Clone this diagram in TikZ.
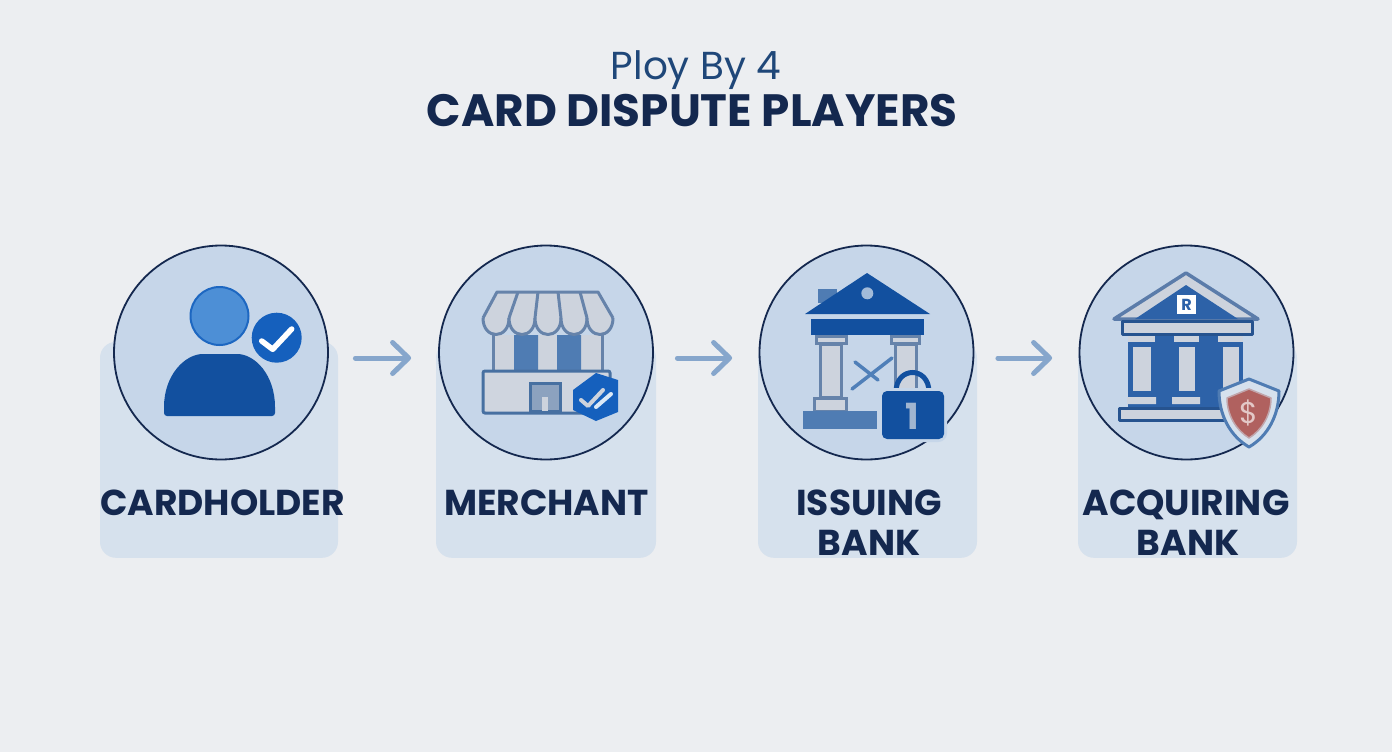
\documentclass[tikz,border=0pt]{standalone}
\usepackage{fontspec}
\setmainfont{Poppins}
\usetikzlibrary{arrows.meta}
\definecolor{pagebg}{HTML}{ECEEF1}
\definecolor{cardbg}{HTML}{D6E1ED}
\definecolor{discbg}{HTML}{C6D6E9}
\definecolor{ink}{HTML}{14284F}
\definecolor{inkb}{HTML}{1F4779}
\definecolor{navy}{HTML}{12509F}
\definecolor{royal}{HTML}{1560BD}
\definecolor{sky}{HTML}{4D8FD6}
\definecolor{steel}{HTML}{4F7CB3}
\definecolor{slate}{HTML}{6683AA}
\definecolor{stone}{HTML}{CDD3DD}
\definecolor{bankblue}{HTML}{2D62A8}
\definecolor{flowc}{HTML}{86A6CC}
\definecolor{brick}{HTML}{B0615F}
\begin{document}
\begin{tikzpicture}
    [
        x=1pt, y=-1pt,
        card/.style={rectangle, fill=cardbg, rounded corners=16pt, minimum height=216pt, anchor=south},
        disc/.style={circle, draw=ink, fill=discbg, line width=1.8pt, minimum size=214pt, inner sep=0pt},
        flow/.style={draw=flowc, line width=5pt, line cap=round, -{Straight Barb[round, length=16pt, width=31pt]}},
        player/.style={text=ink, font=\fontsize{36}{36}\selectfont\bfseries, anchor=base, inner sep=0pt},
        awning/.style={draw=slate, fill=stone, line width=3pt, line join=round},
        pillar/.style={draw=slate, fill=stone, line width=3pt},
        bankpart/.style={draw=bankblue!85!black, fill=stone, line width=3pt, line join=round},
    ]
    \useasboundingbox (0,0) rectangle (1392,752);
    \fill [pagebg] (0,0) rectangle (1392,752);
    \node (title1) at (696,79) [anchor=base, inner sep=0pt, text=inkb, font=\fontsize{39}{39}\selectfont] {Ploy By 4};
    \node (title2) at (692,126) [anchor=base, inner sep=0pt, text=ink, font=\fontsize{45.3}{45.3}\selectfont\bfseries] {CARD DISPUTE PLAYERS};

    \node (card1) at (219,558) [card, minimum width=238pt] {};
    \node (card2) at (546,558) [card, minimum width=220pt] {};
    \node (card3) at (867.5,558) [card, minimum width=219pt] {};
    \node (card4) at (1187.5,558) [card, minimum width=219pt] {};
    \node (disc1) at (221,352.5) [disc] {};
    \node (disc2) at (546,352.5) [disc] {};
    \node (disc3) at (866.5,352.5) [disc] {};
    \node (disc4) at (1186.5,352.5) [disc] {};
    \draw [flow, shorten <=26.5pt, shorten >=27pt] ([yshift=-5.5pt]disc1.east) -- ([yshift=-5.5pt]disc2.west);
    \draw [flow, shorten <=23.5pt, shorten >=26.5pt] ([yshift=-5.5pt]disc2.east) -- ([yshift=-5.5pt]disc3.west);
    \draw [flow, shorten <=23.5pt, shorten >=26.5pt] ([yshift=-5.5pt]disc3.east) -- ([yshift=-5.5pt]disc4.west);

    \node (label1) at (222.5,515) [player] {CARDHOLDER};
    \node (label2) at (546.5,515) [player] {MERCHANT};
    \node (label3) at (869,515) [player] {ISSUING};
    \node (label3b) at (869,555) [player] {BANK};
    \node (label4) at (1186,515) [player] {ACQUIRING};
    \node (label4b) at (1188,555) [player] {BANK};

    \node (head) at (219.5,316) [circle, draw=royal!85!sky, fill=sky, line width=2pt, minimum size=58pt, inner sep=0pt] {};
    \fill [navy, rounded corners=3pt] (164,416) -- (164,410) .. controls (164,375) and (185,354) .. (206,354) -- (234,354) .. controls (255,354) and (275,375) .. (275,410) -- (275,416) -- cycle;
    \node (tick1) at (276.7,337.7) [circle, fill=royal, minimum size=50pt, inner sep=0pt] {};
    \draw [white, line width=5.5pt, line cap=round, line join=round] (261.7,341) -- (272.7,349.3) -- (291.7,329);

    \fill [stone] (493,335) rectangle (602,371);
    \fill [steel] (514,335) rectangle (538,371) (557,335) rectangle (581,371);
    \draw [slate, line width=3pt] (493,335) -- (493,371) (602,335) -- (602,371);
    \fill [stone] (497,292) -- (598,292) -- (613,318) -- (483,318) -- cycle;
    \foreach \sx in {483,509,535,561,587}
        \draw [awning] (\sx,318) .. controls (\sx,340) and (\sx+26,340) .. (\sx+26,318);
    \draw [awning, fill=none] (483,318) -- (497,292) -- (598,292) -- (613,318);
    \draw [slate, line width=3pt] (518,292) -- (509,318) (538,292) -- (535,318) (558,292) -- (561,318) (580,292) -- (587,318);
    \draw [draw=steel!90!black, fill=stone!95!white, line width=3pt, rounded corners=2pt] (483,371) rectangle (610,413);
    \draw [draw=steel!90!black, fill=slate!75!white, line width=3pt] (530,383) rectangle (560,411);
    \fill [stone] (542,397) -- (542,411) -- (548,411) -- (548,397) -- cycle;
    \fill [royal] (596,373) -- (618,380) -- (618,412) -- (596,421) -- (573,410) -- (573,390) -- cycle;
    \draw [stone, line width=4pt, line cap=round, line join=round] (581,400) -- (588,406) -- (603,390);
    \draw [white!80!sky, line width=4pt, line cap=round] (596,407) -- (611,394);

    \fill [steel] (818,289) rectangle (837,303);
    \fill [navy] (867,273) -- (930,314) -- (805,314) -- cycle;
    \node (roofdot) at (867.3,293.3) [circle, fill=discbg!70!steel, minimum size=12pt, inner sep=0pt] {};
    \fill [navy] (811,319) rectangle (924,335);
    \draw [pillar] (820,344) rectangle (841,397);
    \draw [pillar] (816,336) rectangle (846,343);
    \draw [pillar] (814,398) rectangle (846,411);
    \draw [pillar] (895,344) rectangle (916,395);
    \draw [pillar] (891,336) rectangle (919,343);
    \fill [steel] (803,411) rectangle (877,429);
    \draw [steel!85!sky, line width=3.5pt, line cap=round] (855,362) -- (878,380) (852,389) -- (892,358);
    \draw [navy, line width=5pt] (896,392) .. controls (896,366) and (929,366) .. (929,392);
    \draw [discbg, fill=navy, line width=6pt, rounded corners=6pt] (882,391) rectangle (944,439);
    \fill [navy, rounded corners=5pt] (882,391) rectangle (944,439);
    \node (locknum) at (912.5,429) [anchor=base, inner sep=0pt, text=discbg!60!slate, font=\fontsize{36}{36}\selectfont\bfseries] {1};

    \fill [bankblue] (1128,334) rectangle (1243,407);
    \draw [bankpart, line width=3.5pt, draw=slate!80!bankblue] (1186,273) -- (1258,319) -- (1114,319) -- cycle;
    \fill [bankblue] (1186,285) -- (1238,319) -- (1135,319) -- cycle;
    \node (sign) at (1186.5,304.5) [rectangle, fill=white, minimum size=19pt, inner sep=0pt, text=bankblue, font=\fontsize{16}{16}\selectfont\bfseries] {R};
    \draw [bankpart] (1122,321) rectangle (1252,334);
    \foreach \cx/\cw in {1141.5/13.5,1186.5/12.5,1230.5/12.5} {
        \draw [bankpart, draw=bankblue] ({\cx-\cw+3},345) rectangle ({\cx+\cw-3},392);
        \fill [stone] ({\cx-\cw},336) rectangle ({\cx+\cw},342);
    }
    \fill [stone] (1127,397) rectangle (1156,404) (1172,397) rectangle (1200,404);
    \draw [bankpart] (1119,408) rectangle (1225,420);
    \draw [draw=steel, fill=cardbg, line width=3pt, line join=round] (1249,379) -- (1279,391) .. controls (1279,415) and (1268,436) .. (1249,447) .. controls (1230,436) and (1219,415) .. (1219,391) -- cycle;
    \draw [draw=stone!60!brick, fill=brick, line width=1.5pt, line join=round] (1249,389) -- (1271,398) .. controls (1271,415) and (1262,430) .. (1249,438) .. controls (1236,430) and (1227,415) .. (1227,398) -- cycle;
    \node (dollar) at (1248.5,413) [inner sep=0pt, text=brick!35!white, font=\fontsize{30}{30}\selectfont] {\$};
\end{tikzpicture}
\end{document}
